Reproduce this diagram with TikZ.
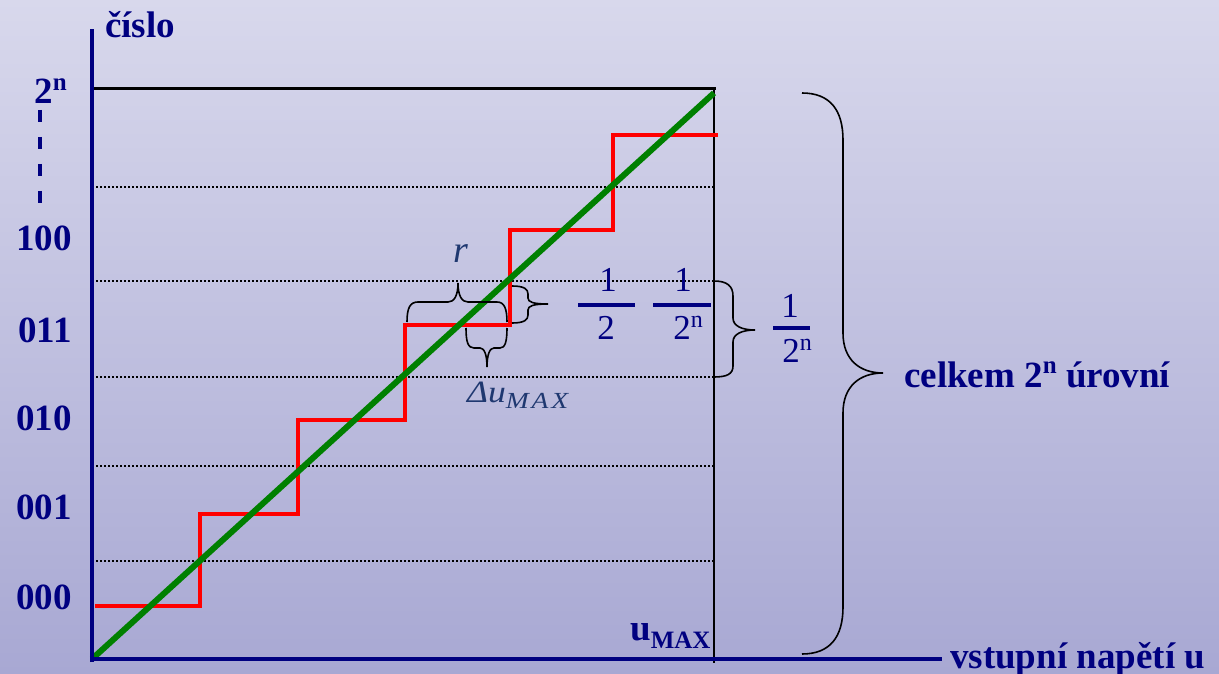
\documentclass[tikz,border=0pt]{standalone}
\usepackage{fontspec}
\setmainfont{Liberation Serif}
\definecolor{navy}{RGB}{0,0,128}
\definecolor{dkblue}{RGB}{31,56,112}
\definecolor{bgtop}{RGB}{216,216,236}
\definecolor{bgbot}{RGB}{168,168,211}
\definecolor{grn}{RGB}{0,128,0}
\begin{document}
\begin{tikzpicture}[x=1pt,y=-1pt,
  lbl/.style={inner sep=0pt, text=navy, font=\fontsize{37}{40}\selectfont\bfseries},
  frac/.style={inner sep=0pt, text=navy, font=\fontsize{35}{36}\selectfont},
  mth/.style={inner sep=0pt, text=dkblue, font=\fontsize{31}{33}\selectfont\itshape},
  brc/.style={black, line width=1.6pt},
  dots/.style={black, line width=1.4pt, dash pattern=on 1.5pt off 2.5pt},
  axis/.style={navy, line width=4pt},
  fbar/.style={navy, line width=4pt},
  stairs/.style={red, line width=4pt, line join=miter},
  ideal/.style={grn, line width=6pt}]
% background
\shade[top color=bgtop, bottom color=bgbot] (0,0) rectangle (1219,674);
\useasboundingbox (0,0) rectangle (1219,674);
% dotted level lines
\foreach \yy in {187,281,377,466,561} \draw[dots] (92,\yy) -- (714,\yy);
% top line and right line
\draw[black, line width=3pt] (94,89) -- (716,89);
\draw[black, line width=2.2pt] (714,89) -- (714,663);
% staircase
\draw[stairs] (95,606) -- (200,606) -- (200,514) -- (298,514) -- (298,420) -- (405,420) -- (405,325) -- (510,325) -- (510,230) -- (613,230) -- (613,135) -- (718,135);
% ideal line
\coordinate (o) at (92,659);
\coordinate (top) at (714,93);
\draw[ideal] (o) -- (top);
% axes
\coordinate (yend) at (92,29);
\coordinate (xend) at (942,659);
\draw[axis] (92,662) -- (yend);
\draw[axis] (90,659) -- (xend);
% dashed marker
\draw[navy, line width=4pt, dash pattern=on 12pt off 15pt] (40,110) -- (40,205);
% labels
\node[lbl, anchor=base west] (cislo) at (105,38) {číslo};
\node[lbl, anchor=base east] (l2n) at (67,104) {2\raisebox{13.5pt}{\fontsize{25}{25}\selectfont n}};
\node[lbl, anchor=base east] (l100) at (72,250) {100};
\node[lbl, anchor=base east] (l011) at (72,342) {011};
\node[lbl, anchor=base east] (l010) at (72,430) {010};
\node[lbl, anchor=base east] (l001) at (72,519) {001};
\node[lbl, anchor=base east] (l000) at (72,609) {000};
\node[lbl, anchor=base west] (umax) at (630,640) {u\raisebox{-8pt}{\fontsize{25}{25}\selectfont MAX}};
\node[lbl, anchor=base west] (xlab) at (950,668) {vstupní napětí u};
\node[lbl, anchor=base west] (celk) at (904,387) {celkem 2\raisebox{13.5pt}{\fontsize{25}{25}\selectfont n} úrovní};
% r and delta u
\node[mth, font=\fontsize{38}{40}\selectfont\itshape, anchor=base] (r) at (461,262) {r};
\node[mth, anchor=base west] (du) at (467,402) {\scalebox{1.15}[1]{Δu}\raisebox{-6pt}{\fontsize{23}{23}\selectfont\addfontfeature{LetterSpace=10}\scalebox{1.2}[1]{MAX}}};
% fractions
\node[frac, anchor=base] (n1) at (608,291) {1};
\draw[fbar] (578,305) -- (635,305);
\node[frac, anchor=base] (d1) at (606,339) {2};
\node[frac, anchor=base] (n2) at (683,291) {1};
\draw[fbar] (653,305) -- (711,305);
\node[frac, anchor=base] (d2) at (688,339) {2\raisebox{12pt}{\fontsize{24}{24}\selectfont n}};
\node[frac, anchor=base] (n3) at (790,317) {1};
\draw[fbar] (773,328) -- (810,328);
\node[frac, anchor=base] (d3) at (797,362) {2\raisebox{12pt}{\fontsize{24}{24}\selectfont n}};
% big brace
\draw[brc] (802,93) .. controls (830,93) and (843,110) .. (843,140) -- (843,333)
  .. controls (843,360) and (860,373) .. (883,373)
  .. controls (860,373) and (843,386) .. (843,413) -- (843,607)
  .. controls (843,637) and (830,654) .. (802,654);
% small right brace
\draw[brc] (714,281) .. controls (727,281) and (733,286) .. (733,296) -- (733,318)
  .. controls (733,326) and (742,330) .. (755,330)
  .. controls (742,330) and (733,334) .. (733,342) -- (733,366)
  .. controls (733,374) and (727,377) .. (714,377);
% brace over r
\draw[brc] (407,322) .. controls (407,308) and (410,302) .. (418,302) -- (448,302)
  .. controls (454,302) and (458,296) .. (458,283)
  .. controls (458,296) and (462,302) .. (468,302) -- (497,302)
  .. controls (504,302) and (507,308) .. (507,322);
% brace under delta u
\draw[brc] (466,328) .. controls (466,342) and (468,348) .. (474,348) -- (480,348)
  .. controls (484,348) and (487,354) .. (487,367)
  .. controls (487,354) and (490,348) .. (494,348) -- (500,348)
  .. controls (505,348) and (507,342) .. (507,328);
% small brace right of step
\draw[brc] (512,286) .. controls (524,286) and (528,289) .. (528,294) -- (528,298)
  .. controls (528,302) and (533,304) .. (548,304)
  .. controls (533,304) and (528,306) .. (528,310) -- (528,315)
  .. controls (528,320) and (524,323) .. (512,323);
\end{tikzpicture}
\end{document}
